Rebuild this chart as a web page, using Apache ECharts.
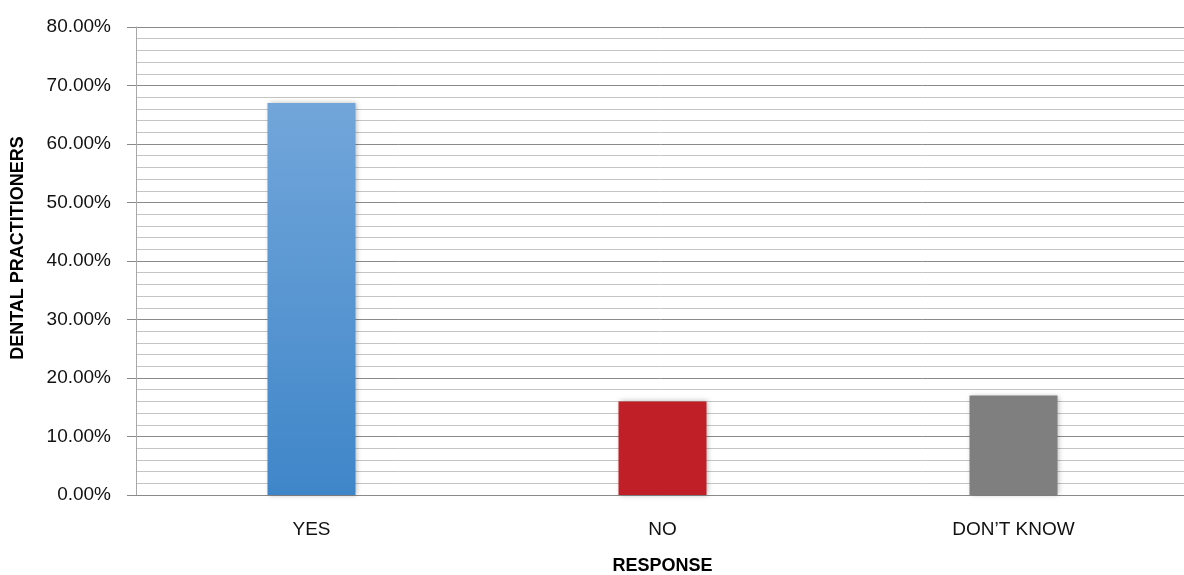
<!DOCTYPE html>
<html>
<head>
<meta charset="utf-8">
<title>Response of dental practitioners</title>
<script src="https://cdn.jsdelivr.net/npm/echarts@6/dist/echarts.min.js"></script>
<style>
  html, body { margin: 0; padding: 0; background: #fff; overflow: hidden; }
  #chart { width: 1184px; height: 575px; }
</style>
</head>
<body>
<div id="chart"></div>
<script>
// Share of dental practitioners by response (percent)
const categories = ['YES', 'NO', 'DON\u2019T KNOW'];
const shares = [67, 16, 17];

const yMin = 0;
const yMax = 80;
const yStep = 10;

const FONT = '"Liberation Sans", Arial, Helvetica, sans-serif';

const barStyles = [
  {
    color: new echarts.graphic.LinearGradient(0, 0, 0, 1, [
      { offset: 0, color: '#72a6da' },
      { offset: 1, color: '#3f86c9' }
    ])
  },
  { color: '#c01f27' },
  { color: '#7f7f7f' }
];

const chart = echarts.init(document.getElementById('chart'), null, {
  renderer: 'canvas', width: 1184, height: 575
});

chart.setOption({
  animation: false,
  backgroundColor: '#ffffff',
  grid: {
    left: 136, top: 27, right: -5, height: 468,
    containLabel: false, outerBoundsMode: 'none'
  },
  xAxis: {
    type: 'category',
    data: categories,
    name: 'RESPONSE',
    nameLocation: 'middle',
    nameGap: 62,
    nameTextStyle: { fontFamily: FONT, fontSize: 18, fontWeight: 'bold', color: '#000' },
    axisLine: { show: true, lineStyle: { color: '#8a8a8a', width: 1 } },
    axisTick: { show: false },
    axisLabel: { fontFamily: FONT, fontSize: 19, color: '#111', margin: 25 },
    splitLine: { show: false }
  },
  yAxis: {
    type: 'value',
    min: yMin,
    max: yMax,
    interval: yStep,
    name: 'DENTAL PRACTITIONERS',
    nameLocation: 'middle',
    nameRotate: 90,
    nameGap: 109,
    nameTextStyle: {
      fontFamily: FONT, fontSize: 18, fontWeight: 'bold', color: '#000',
      padding: [0, 0, 0, 26]
    },
    axisLine: { show: true, lineStyle: { color: '#a8a8a8', width: 1 } },
    axisTick: { show: true, length: 9, lineStyle: { color: '#8a8a8a' } },
    minorTick: { show: false, splitNumber: 5 },
    axisLabel: {
      fontFamily: FONT, fontSize: 19, color: '#111', margin: 25,
      formatter: v => v.toFixed(2) + '%'
    },
    splitLine: { show: true, lineStyle: { color: '#8a8a8a', width: 1 } },
    minorSplitLine: { show: true, lineStyle: { color: '#c4c4c4', width: 1 } }
  },
  series: [{
    type: 'bar',
    barWidth: 88,
    data: shares.map((v, i) => ({
      value: v,
      itemStyle: Object.assign({
        shadowColor: 'rgba(0,0,0,0.28)',
        shadowBlur: 5,
        shadowOffsetX: 1,
        shadowOffsetY: 0
      }, barStyles[i])
    }))
  }]
});
</script>
</body>
</html>
